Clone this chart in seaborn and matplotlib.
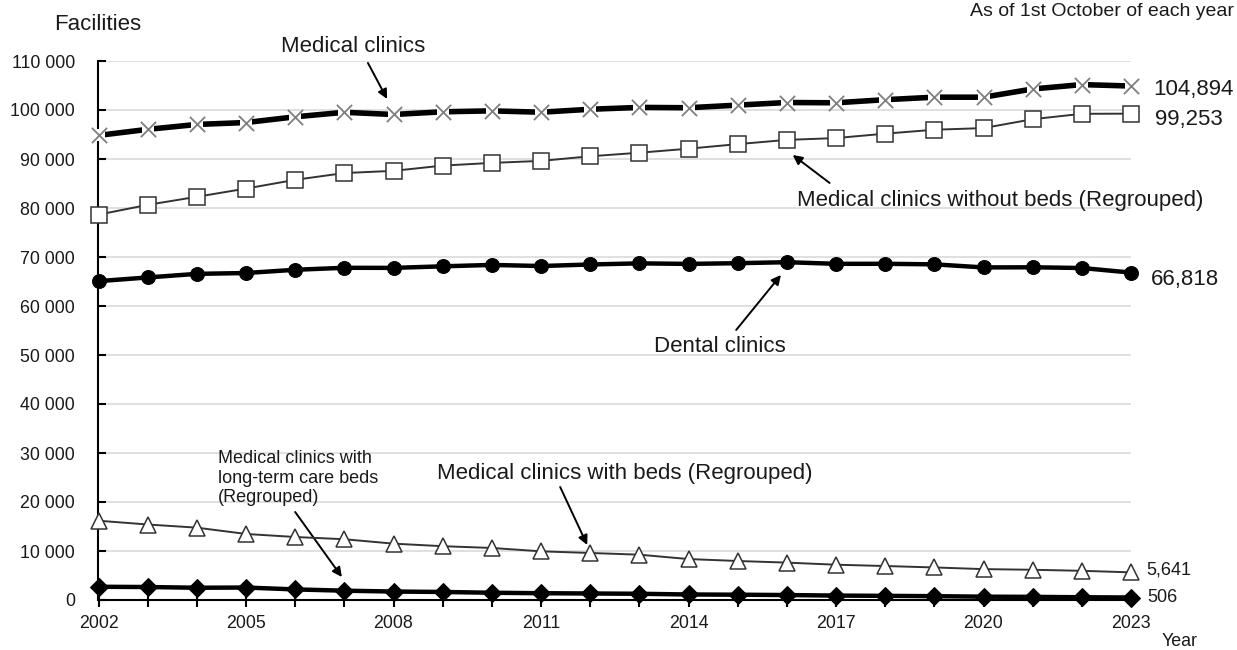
import matplotlib
matplotlib.use("Agg")
import matplotlib.pyplot as plt
import matplotlib.ticker as mticker
import numpy as np
import pandas as pd
import seaborn as sns

years = list(range(2002, 2024))
medical_clinics = [94819, 96050, 97051, 97442, 98609, 99532, 99083, 99635, 99824, 99547, 100152,
                   100528, 100461, 100995, 101529, 101471, 102105, 102616, 102612, 104292, 105182, 104894]
without_beds = [78641, 80642, 82286, 83965, 85751, 87133, 87583, 88653, 89204, 89613, 90556,
                91279, 92106, 93034, 93900, 94269, 95171, 95972, 96309, 98123, 99224, 99253]
dental_clinics = [65073, 65828, 66557, 66732, 67392, 67798, 67779, 68097, 68384, 68156, 68474,
                  68701, 68592, 68737, 68940, 68609, 68613, 68500, 67874, 67899, 67755, 66818]
with_beds = [16178, 15408, 14765, 13477, 12858, 12399, 11500, 10982, 10620, 9934, 9596,
             9249, 8355, 7961, 7629, 7202, 6934, 6644, 6303, 6169, 5958, 5641]
long_term_beds = [2700, 2650, 2500, 2544, 2160, 1900, 1728, 1640, 1480, 1385, 1330,
                  1270, 1125, 1080, 1010, 902, 847, 781, 680, 640, 560, 506]

y_ticks = list(range(0, 110001, 10000))
x_ticks = list(range(2002, 2024))
x_tick_labels = [str(y) if (y - 2002) % 3 == 0 else "" for y in x_ticks]

df = pd.DataFrame({
    "year": years,
    "Medical clinics": medical_clinics,
    "Medical clinics without beds (Regrouped)": without_beds,
    "Dental clinics": dental_clinics,
    "Medical clinics with beds (Regrouped)": with_beds,
    "Medical clinics with long-term care beds (Regrouped)": long_term_beds,
})

sns.set_theme(style="white")
plt.rcParams["font.family"] = ["Liberation Sans", "DejaVu Sans"]

W, H = 1237, 650
fig = plt.figure(figsize=(W / 100, H / 100), dpi=100)
ax = fig.add_axes([98.5 / W, 1 - 600 / H, (1131 - 98.5) / W, (600 - 61) / H])

thin = "#333333"
txt = "#1a1a1a"
# Medical clinics: thick black line broken around grey x markers
sns.lineplot(data=df, x="year", y="Medical clinics", ax=ax, color="black", lw=4.0,
             marker="s", markersize=9, markerfacecolor="white", markeredgecolor="white",
             markeredgewidth=0, clip_on=False, zorder=5)
sns.scatterplot(data=df, x="year", y="Medical clinics", ax=ax, marker="x", s=120,
                color="#7f7f7f", linewidth=1.3, clip_on=False, zorder=6)
sns.lineplot(data=df, x="year", y="Medical clinics without beds (Regrouped)", ax=ax, color=thin,
             lw=1.4, marker="s", markersize=11, markerfacecolor="white", markeredgecolor=thin,
             markeredgewidth=1.1, clip_on=False, zorder=5)
sns.lineplot(data=df, x="year", y="Dental clinics", ax=ax, color="black", lw=3.2,
             marker="o", markersize=10, markerfacecolor="black", markeredgecolor="black",
             clip_on=False, zorder=5)
sns.lineplot(data=df, x="year", y="Medical clinics with beds (Regrouped)", ax=ax, color=thin,
             lw=1.4, marker="^", markersize=12, markerfacecolor="white", markeredgecolor=thin,
             markeredgewidth=1.1, clip_on=False, zorder=5)
sns.lineplot(data=df, x="year", y="Medical clinics with long-term care beds (Regrouped)", ax=ax,
             color="black", lw=3.2, marker="D", markersize=9, markerfacecolor="black",
             markeredgecolor="black", clip_on=False, zorder=5)

ax.set_xlim(2002, 2023)
ax.set_ylim(0, 110000)
ax.set_xlabel("")
ax.set_ylabel("")
ax.set_xticks(x_ticks)
ax.set_xticklabels(x_tick_labels)
ax.set_yticks(y_ticks)
ax.yaxis.set_major_formatter(mticker.FuncFormatter(lambda v, p: f"{int(v):,}".replace(",", " ")))
for gy in y_ticks[1:]:
    ax.axhline(gy, color="#e0e0e0", lw=1.4, zorder=0)
ax.grid(False)
for s in ["top", "right"]:
    ax.spines[s].set_visible(False)
ax.spines["left"].set_color("black")
ax.spines["bottom"].set_color("black")
ax.spines["left"].set_linewidth(1.5)
ax.spines["bottom"].set_linewidth(1.5)
ax.tick_params(axis="y", direction="in", length=6, width=1.5, color="black", pad=17,
               labelsize=12.8, labelcolor=txt, left=True)
ax.tick_params(axis="x", direction="inout", length=10, width=1.5, color="black", pad=6,
               labelsize=12.8, labelcolor=txt, bottom=True)

# end labels
end_series = [(medical_clinics, (22, 3), 16), (without_beds, (24, 6), 16),
              (dental_clinics, (20, 7), 16), (with_beds, (15, -2), 13), (long_term_beds, (16, 0), 13)]
for vals, off, fs in end_series:
    ax.annotate(f"{vals[-1]:,}", xy=(years[-1], vals[-1]), xytext=(off[0], -off[1]),
                textcoords="offset pixels", ha="left", va="center", fontsize=fs,
                color=txt, annotation_clip=False)

arrow = dict(arrowstyle="-|>", color="black", lw=1.4, mutation_scale=14, shrinkA=0, shrinkB=0)
ax.annotate("Medical clinics", xy=(2007.87, 102250), xytext=(2007.18, 112870), ha="center",
            va="center", fontsize=16, color=txt, annotation_clip=False)
ax.annotate("", xy=(2007.87, 102250), xytext=(2007.48, 109600), arrowprops=arrow,
            annotation_clip=False)
ax.annotate("Medical clinics without beds (Regrouped)", xy=(2016.2, 81440), ha="left",
            va="center", fontsize=16, color=txt, annotation_clip=False)
ax.annotate("", xy=(2016.12, 90820), xytext=(2016.87, 85110), arrowprops=arrow)
ax.annotate("Dental clinics", xy=(2014.64, 51640), ha="center", va="center", fontsize=16,
            color=txt)
ax.annotate("", xy=(2015.88, 66330), xytext=(2014.97, 55110), arrowprops=arrow)
ax.annotate("Medical clinics with beds (Regrouped)", xy=(2008.88, 25900), ha="left",
            va="center", fontsize=16, color=txt)
ax.annotate("", xy=(2011.94, 11225), xytext=(2011.39, 23060), arrowprops=arrow)
ax.annotate("Medical clinics with\nlong-term care beds\n(Regrouped)", xy=(2004.43, 30600),
            ha="left", va="top", fontsize=13, color=txt, linespacing=1.2)
ax.annotate("", xy=(2006.95, 4690), xytext=(2006.0, 17960), arrowprops=arrow)

fig.text(54 / W, 1 - 25 / H, "Facilities", ha="left", va="center", fontsize=16, color=txt)
fig.text(1162 / W, 1 - 642 / H, "Year", ha="left", va="center", fontsize=12.8, color=txt)
fig.text(1234 / W, 1 - 3 / H, "As of 1st October of each year", ha="right", va="top",
         fontsize=14, color=txt)

fig.savefig("out.png", dpi=100)
